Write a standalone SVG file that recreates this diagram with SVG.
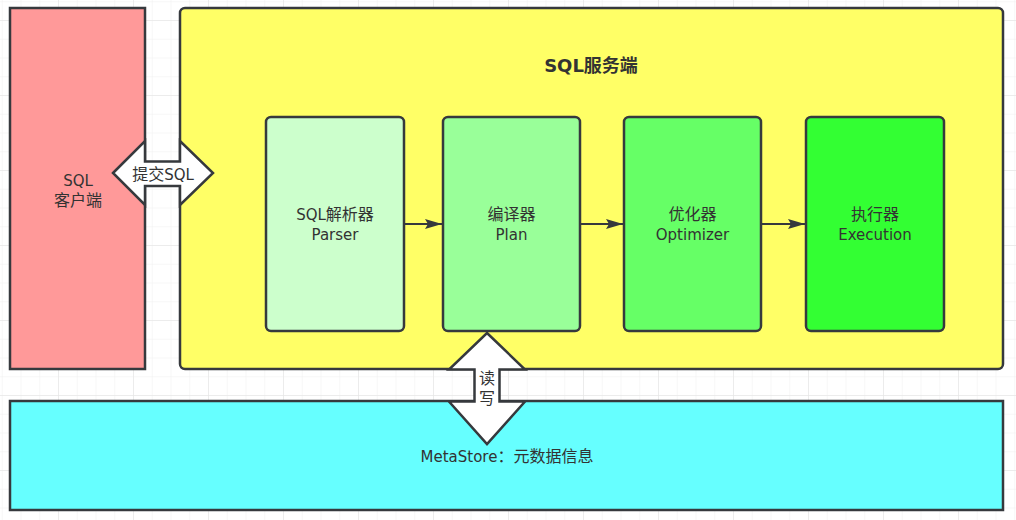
<svg xmlns="http://www.w3.org/2000/svg" width="1016" height="520" viewBox="0 0 1016 520">
<defs>
<pattern id="minor" x="1.75" y="20" width="18.75" height="18.75" patternUnits="userSpaceOnUse">
<path d="M0 0H18.75M0 0V18.75" fill="none" stroke="#f0f0f0" stroke-width="1"/>
</pattern>
<pattern id="major" x="58" y="20" width="75" height="75" patternUnits="userSpaceOnUse">
<path d="M0 0H75M0 0V75" fill="none" stroke="#e2e2e2" stroke-width="1"/>
</pattern>
<marker id="head" viewBox="0 0 18 12" refX="17" refY="6" markerWidth="18" markerHeight="12" markerUnits="userSpaceOnUse" orient="auto">
<path d="M0 1L17 6L0 11L3 6Z" fill="#36393d"/>
</marker>
</defs>
<style>
.box{stroke:#36393d;stroke-width:2.5}
.t{font-family:"DejaVu Sans","Noto Sans CJK SC",sans-serif;font-size:15px;fill:#333;text-anchor:middle}
.c{font-size:16px}
.tb{font-family:"DejaVu Sans","Noto Sans CJK SC",sans-serif;font-size:18px;font-weight:bold;fill:#333;text-anchor:middle}
.edge{stroke:#36393d;stroke-width:2;fill:none}
.big{fill:#fff;stroke:#36393d;stroke-width:2.5;stroke-linejoin:miter}
</style>
<rect width="1016" height="520" fill="#fff"/>
<rect width="1016" height="520" fill="url(#minor)"/>
<rect width="1016" height="520" fill="url(#major)"/>

<g id="client">
<rect class="box" x="10" y="8" width="135" height="361" fill="#ff9999"/>
<text class="t" x="78" y="186">SQL</text>
<text class="t c" x="78" y="206">客户端</text>
</g>
<g id="server">
<rect class="box" x="180" y="8" width="823" height="361" rx="5" fill="#ffff66"/>
<text class="tb" x="591" y="72">SQL服务端</text>
</g>
<g id="metastore">
<rect class="box" x="10" y="401" width="993" height="109" fill="#66ffff"/>
<text class="t" x="507" y="462">MetaStore<tspan class="c">：元数据信息</tspan></text>
</g>
<g id="parser">
<rect class="box" x="266" y="117" width="138" height="214" rx="5" fill="#ccffcc"/>
<text class="t" x="335" y="220">SQL<tspan class="c">解析器</tspan></text>
<text class="t" x="335" y="240">Parser</text>
</g>
<g id="plan">
<rect class="box" x="443" y="117" width="137" height="214" rx="5" fill="#99ff99"/>
<text class="t c" x="511.5" y="220">编译器</text>
<text class="t" x="511.5" y="240">Plan</text>
</g>
<g id="optimizer">
<rect class="box" x="624" y="117" width="137" height="214" rx="5" fill="#66ff66"/>
<text class="t c" x="692.5" y="220">优化器</text>
<text class="t" x="692.5" y="240">Optimizer</text>
</g>
<g id="execution">
<rect class="box" x="806" y="117" width="138" height="214" rx="5" fill="#33ff33"/>
<text class="t c" x="875" y="220">执行器</text>
<text class="t" x="875" y="240">Execution</text>
</g>

<g id="connectors">
<path class="edge" d="M405 224H442" marker-end="url(#head)"/>
<path class="edge" d="M581 224H623" marker-end="url(#head)"/>
<path class="edge" d="M762 224H805" marker-end="url(#head)"/>
<g id="submit">
<path class="big" d="M113 173L145 141V161.5H180V141L213 173L180 205V186H145V205Z"/>
<text class="t" x="163" y="180"><tspan class="c">提交</tspan>SQL</text>
</g>
<g id="readwrite">
<path class="big" d="M487 333L525 369.5H499.5V401.5H525L487 444L449 401.5H474.5V369.5H449Z"/>
<text class="t c" x="487" y="384">读</text>
<text class="t c" x="487" y="404">写</text>
</g>
</g>
</svg>
